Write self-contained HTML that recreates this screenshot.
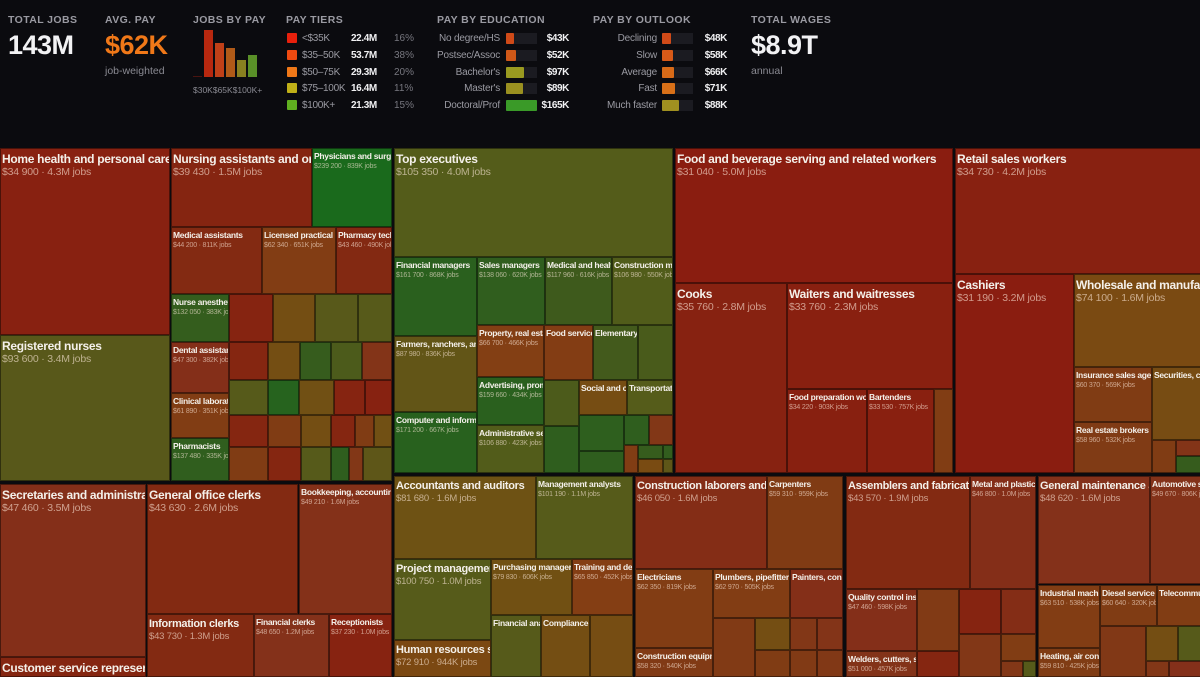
<!DOCTYPE html>
<html><head><meta charset="utf-8"><style>
body{margin:0;width:1200px;height:676px;background:#0b0b0f;overflow:hidden;font-family:"Liberation Sans",sans-serif;position:relative}
.a{position:absolute}
.ht{position:absolute;top:14px;font-size:10.5px;font-weight:bold;color:#9a9aa2;letter-spacing:.4px}
.big{position:absolute;top:30px;font-size:27px;font-weight:bold;color:#f2f2f4;letter-spacing:-.5px}
.sm{position:absolute;top:65px;font-size:10.5px;color:#8a8a92}
.row{position:absolute;font-size:10px;height:13px;line-height:13px;white-space:nowrap}
.row span{white-space:nowrap}
.tile{position:absolute;box-sizing:border-box;border:1px solid rgba(0,0,0,.45);overflow:hidden;white-space:nowrap}
.tile .t{color:#f4f0ea;font-weight:bold;padding-left:1px;letter-spacing:-.3px}
.tile .s{color:rgba(255,235,220,.6);padding-left:1px;letter-spacing:-.2px}
</style></head><body>
<div class="ht" style="left:8px">TOTAL JOBS</div>
<div class="big" style="left:8px">143M</div>
<div class="ht" style="left:105px">AVG. PAY</div>
<div class="big" style="left:105px;color:#f07818">$62K</div>
<div class="sm" style="left:105px">job-weighted</div>
<div class="ht" style="left:193px">JOBS BY PAY</div>
<svg class="a" style="left:190px;top:26px" width="80" height="70" id="hist"></svg>
<div class="ht" style="left:286px">PAY TIERS</div>
<div id="tiers"></div>
<div class="ht" style="left:437px">PAY BY EDUCATION</div>
<div id="edu"></div>
<div class="ht" style="left:593px">PAY BY OUTLOOK</div>
<div id="out"></div>
<div class="ht" style="left:751px">TOTAL WAGES</div>
<div class="big" style="left:751px">$8.9T</div>
<div class="sm" style="left:751px">annual</div>
<div id="tm"></div>
<script>
// header data
const histValues=[0.5,47,34,29,17,22];
const histColors=['#8a1d10','#b8280f','#c04018','#b05a18','#888020','#5a9028'];
const tierLabels=['<$35K','$35–50K','$50–75K','$75–100K','$100K+'];
const tierJobs=['22.4M','53.7M','29.3M','16.4M','21.3M'];
const tierPct=['16%','38%','20%','11%','15%'];
const tierColors=['#e8200c','#f04a10','#f07818','#c0b018','#60b020'];
const eduLabels=['No degree/HS','Postsec/Assoc',"Bachelor's","Master's",'Doctoral/Prof'];
const eduPay=[43,52,97,89,165];
const eduColors=['#d04a18','#d05818','#9a9a20','#9a9020','#3a9a28'];
const outLabels=['Declining','Slow','Average','Fast','Much faster'];
const outPay=[48,58,66,71,88];
const outColors=['#d04a18','#d85a18','#d86a18','#d87018','#a09020'];

const hist=document.getElementById('hist');
const hmax=Math.max(...histValues);
histValues.forEach((v,i)=>{const h=v/hmax*47;const r=document.createElementNS('http://www.w3.org/2000/svg','rect');
r.setAttribute('x',3+i*11);r.setAttribute('y',51-h);r.setAttribute('width',9);r.setAttribute('height',h);r.setAttribute('fill',histColors[i]);


hist.appendChild(r);});
const ht=document.createElementNS('http://www.w3.org/2000/svg','text');ht.setAttribute('x',3);ht.setAttribute('y',67);ht.setAttribute('font-size','8.5');ht.setAttribute('fill','#8a8a92');ht.textContent='$30K$65K$100K+';


hist.appendChild(ht);

const rowsY=[32,49,66,82,99];
let tiers=document.getElementById('tiers'),h='';
tierLabels.forEach((l,i)=>{h+=`<div class="row" style="left:287px;top:${rowsY[i]}px"><span class="a" style="left:0;top:1px;width:10px;height:10px;background:${tierColors[i]};border-radius:1px"></span><span class="a" style="left:15px;color:#9a9aa2;letter-spacing:-.3px">${l}</span><span class="a" style="left:64px;color:#f0f0f2;font-weight:bold;letter-spacing:-.4px">${tierJobs[i]}</span><span class="a" style="left:107px;color:#77777f">${tierPct[i]}</span></div>`});
tiers.innerHTML=h;
function barRows(id,labels,vals,cols,lx,tx,vx,nm){let s='';labels.forEach((l,i)=>{s+=`<div class="row" style="left:0;top:${rowsY[i]}px;width:800px"><span class="a" style="right:${800-lx}px;color:#9a9aa2;text-align:right;letter-spacing:-.2px">${l}</span><span class="a" style="left:${tx}px;top:1px;width:31px;height:11px;background:#1b1b21"></span><span class="a" style="left:${tx}px;top:1px;width:${vals[i]/165*31}px;height:11px;background:${cols[i]};border-radius:1px"></span><span class="a" style="right:${800-vx}px;color:#f0f0f2;font-weight:bold;letter-spacing:-.4px">$${vals[i]}K</span></div>`});document.getElementById(id).innerHTML=s;}
barRows('edu',eduLabels,eduPay,eduColors,500,506,569,'education-row');
barRows('out',outLabels,outPay,outColors,657,662,727,'outlook-row');

// treemap tiles: name, pay, jobs label, x0,y0,x1,y1, size(L/M/S/-)
const tiles=[
['Home health and personal care',34900,'4.3M',0,148,169,334,'L'],
['Registered nurses',93600,'3.4M',0,335,169,480,'L'],
['Nursing assistants and orderlies',39430,'1.5M',171,148,311,226,'L'],
['Physicians and surgeons',239200,'839K',312,148,391,226,'S'],
['Medical assistants',44200,'811K',171,227,261,293,'S'],
['Licensed practical nurses',62340,'651K',262,227,335,293,'S'],
['Pharmacy technicians',43460,'490K',336,227,391,293,'S'],
['Nurse anesthetists',132050,'383K',171,294,228,341,'S'],
['',38000,'',229,294,272,341],['',78000,'',273,294,314,341],['',95000,'',315,294,357,341],['',98000,'',358,294,391,341],
['Dental assistants',47300,'382K',171,342,228,392,'S'],
['Clinical laboratory',61890,'351K',171,393,228,437,'S'],
['Pharmacists',137480,'335K',171,438,228,480,'S'],
['',40000,'',229,342,267,379],['',78000,'',268,342,299,379],['',130000,'',300,342,330,379],['',110000,'',331,342,361,379],['',52000,'',362,342,391,379],
['',100000,'',229,380,267,414],['',180000,'',268,380,298,414],['',80000,'',299,380,333,414],['',38000,'',334,380,364,414],['',36000,'',365,380,391,414],
['',40000,'',229,415,267,446],['',60000,'',268,415,300,446],['',78000,'',301,415,330,446],['',40000,'',331,415,354,446],['',60000,'',355,415,373,446],['',80000,'',374,415,391,446],
['',60000,'',229,447,267,480],['',40000,'',268,447,300,480],['',100000,'',301,447,330,480],['',140000,'',331,447,348,480],['',55000,'',349,447,362,480],['',90000,'',363,447,391,480],
['Top executives',105350,'4.0M',394,148,672,256,'L'],
['Financial managers',161700,'868K',394,257,476,335,'S'],
['Sales managers',138060,'620K',477,257,544,324,'S'],
['Medical and health services managers',117960,'616K',545,257,611,324,'S'],
['Construction managers',106980,'550K',612,257,672,324,'S'],
['Farmers, ranchers, and other agricultural managers',87980,'836K',394,336,476,411,'S'],
['Computer and information systems managers',171200,'667K',394,412,476,472,'S'],
['Property, real estate managers',66700,'466K',477,325,543,376,'S'],
['Food service managers',64000,'',544,325,592,379,'S'],
['Elementary school principals',115000,'',593,325,637,379,'S'],
['',112000,'',638,325,672,379],
['Advertising, promotions managers',159660,'434K',477,377,543,424,'S'],
['Administrative services managers',106880,'423K',477,425,543,472,'S'],
['',110000,'',544,380,578,425],['',140000,'',544,426,578,472],
['Social and community managers',77000,'',579,380,626,414,'S'],
['Transportation managers',105000,'',627,380,672,414,'S'],
['',145000,'',579,415,623,450],['',140000,'',624,415,648,444],['',55000,'',649,415,672,444],
['',140000,'',579,451,623,472],['',62000,'',624,445,637,472],['',130000,'',638,445,662,458],['',135000,'',663,445,672,458],['',75000,'',638,459,662,472],['',90000,'',663,459,672,472],
['Food and beverage serving and related workers',31040,'5.0M',675,148,952,282,'L'],
['Cooks',35760,'2.8M',675,283,786,472,'L'],
['Waiters and waitresses',33760,'2.3M',787,283,952,388,'L'],
['Food preparation workers',34220,'903K',787,389,866,472,'S'],
['Bartenders',33530,'757K',867,389,933,472,'S'],
['',62000,'',934,389,952,472],
['Retail sales workers',34730,'4.2M',955,148,1200,273,'L'],
['Cashiers',31190,'3.2M',955,274,1073,472,'L'],
['Wholesale and manufacturing sales representatives',74100,'1.6M',1074,274,1200,366,'L'],
['Insurance sales agents',60370,'569K',1074,367,1151,421,'S'],
['Real estate brokers',58960,'532K',1074,422,1151,472,'S'],
['Securities, commodities sales agents',76000,'',1152,367,1200,439,'S'],
['',60000,'',1152,440,1175,472],['',52000,'',1176,440,1200,455],['',130000,'',1176,456,1200,472],
['Secretaries and administrative assistants',47460,'3.5M',0,484,145,656,'L'],
['Customer service representatives',40000,'2.9M',0,657,145,676,'L'],
['General office clerks',43630,'2.6M',147,484,297,613,'L'],
['Bookkeeping, accounting clerks',49210,'1.6M',299,484,391,613,'S'],
['Information clerks',43730,'1.3M',147,614,253,676,'M'],
['Financial clerks',48650,'1.2M',254,614,328,676,'S'],
['Receptionists',37230,'1.0M',329,614,391,676,'S'],
['Accountants and auditors',81680,'1.6M',394,476,535,558,'M'],
['Management analysts',101190,'1.1M',536,476,632,558,'S'],
['Project management specialists',100750,'1.0M',394,559,490,639,'M'],
['Human resources specialists',72910,'944K',394,640,490,676,'M'],
['Purchasing managers',79830,'606K',491,559,571,614,'S'],
['Training and development',65850,'452K',572,559,632,614,'S'],
['Financial analysts',100000,'',491,615,540,676,'S'],
['Compliance officers',78000,'',541,615,589,676,'S'],
['',77000,'',590,615,632,676],
['Construction laborers and helpers',46050,'1.6M',635,476,766,568,'M'],
['Carpenters',59310,'959K',767,476,842,568,'S'],
['Electricians',62350,'819K',635,569,712,647,'S'],
['Construction equipment operators',58320,'540K',635,648,712,676,'S'],
['Plumbers, pipefitters',62970,'505K',713,569,789,617,'S'],
['Painters, construction',47000,'',790,569,842,617,'S'],
['',58000,'',713,618,754,676],['',78000,'',755,618,789,649],['',60000,'',755,650,789,676],
['',55000,'',790,618,816,649],['',52000,'',817,618,842,649],['',58000,'',790,650,816,676],['',56000,'',817,650,842,676],
['Assemblers and fabricators',43570,'1.9M',846,476,969,588,'M'],
['Metal and plastic machine workers',46800,'1.0M',970,476,1035,588,'S'],
['Quality control inspectors',47460,'598K',846,589,916,650,'S'],
['Welders, cutters, solderers',51000,'457K',846,651,916,676,'S'],
['',58000,'',917,589,958,650],['',40000,'',917,651,958,676],
['',38000,'',959,589,1000,633],['',46000,'',1001,589,1035,633],
['',55000,'',959,634,1000,676],['',62000,'',1001,634,1035,660],['',55000,'',1001,661,1022,676],['',100000,'',1023,661,1035,676],
['General maintenance and repair workers',48620,'1.6M',1038,476,1149,583,'M'],
['Automotive service technicians',49670,'806K',1150,476,1200,583,'S'],
['Industrial machinery mechanics',63510,'538K',1038,585,1099,647,'S'],
['Heating, air conditioning mechanics',59810,'425K',1038,648,1099,676,'S'],
['Diesel service technicians',60640,'320K',1100,585,1156,625,'S'],
['Telecommunications equipment installers',62000,'',1157,585,1200,625,'S'],
['',56000,'',1100,626,1145,676],['',78000,'',1146,626,1177,660],['',100000,'',1178,626,1200,660],['',55000,'',1146,661,1168,676],['',48000,'',1169,661,1200,676]
];
const payStops=[31000,44000,48000,60000,66000,74000,82000,93000,105000,118000,138000,160000,240000];
const colStops=['#8a1d10','#832a12','#84301a','#803c14','#843e14','#7a4a12','#6e5214','#58581a','#555c1a','#3e5a1c','#305e1e','#2a601e','#1a6a1c'];
function hex(c){return [1,3,5].map(i=>parseInt(c.substr(i,2),16));}
function payColor(p){if(p<=payStops[0])return colStops[0];for(let i=1;i<payStops.length;i++){if(p<=payStops[i]){const t=(p-payStops[i-1])/(payStops[i]-payStops[i-1]);const a=hex(colStops[i-1]),b=hex(colStops[i]);return 'rgb('+a.map((v,k)=>Math.round(v+(b[k]-v)*t)).join(',')+')';}}return colStops[colStops.length-1];}
function fmt(p){return '$'+Math.floor(p/1000)+' '+String(p%1000).padStart(3,'0');}
const sizes={L:[12,10.5,3],M:[11,9.5,3],S:[8.5,7,2]};
const tm=document.getElementById('tm');
tiles.forEach(d=>{const [n,p,j,x0,y0,x1,y1,sz]=d;const el=document.createElement('div');el.className='tile';
el.style.cssText=`left:${x0}px;top:${y0}px;width:${x1-x0+1}px;height:${y1-y0+1}px;background:${payColor(p)}`;


if(n&&sz){const s=sizes[sz];el.innerHTML=`<div class="t" style="font-size:${s[0]}px;margin-top:${s[2]}px;line-height:${s[0]+2}px">${n}</div>`+(j?`<div class="s" style="font-size:${s[1]}px;line-height:${s[1]+2}px">${fmt(p)} · ${j} jobs</div>`:'');}
tm.appendChild(el);});
</script>
</body></html>
